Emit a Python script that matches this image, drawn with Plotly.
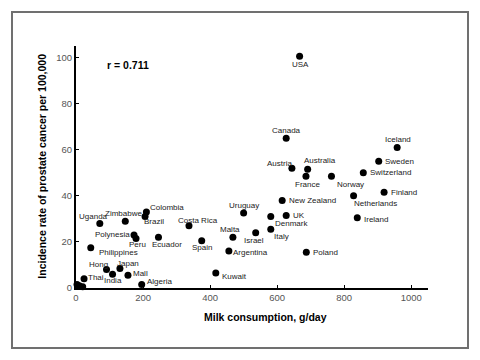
import plotly.graph_objects as go

countries = ["USA", "Canada", "Iceland", "Sweden", "Austria", "Australia", "Switzerland",
             "France", "Norway", "Finland", "Netherlands", "New Zealand", "UK", "Denmark",
             "Ireland", "Italy", "Israel", "Poland", "Uruguay", "Colombia", "Brazil",
             "Zimbabwe", "Uganda", "Costa Rica", "Polynesia", "Peru", "Ecuador", "Malta",
             "Spain", "Argentina", "Philippines", "Hong", "Japan", "India", "Mall", "Thai",
             "Kuwait", "Algeria", "", "", ""]
milk = [667, 627, 958, 903, 644, 691, 857,
        686, 762, 919, 828, 615, 627, 581,
        839, 581, 536, 687, 500, 210, 206,
        147, 71, 337, 173, 179, 246, 468,
        375, 456, 44, 91, 131, 109, 155, 24,
        417, 196, 3, 10, 20]
incidence = [100.5, 65, 61, 55, 52, 51.5, 50,
             48.5, 48.5, 41.5, 40, 38, 31.5, 31,
             30.5, 25.5, 24, 15.5, 32.5, 33, 31,
             29, 28, 27, 23, 21.5, 22, 22,
             20.5, 16, 17.5, 8, 8.5, 6, 5.5, 4,
             6.5, 1.5, 1.5, 1, 0.5]

# label placement (style): anchor, pixel offset right, pixel offset down
label_style = [("center", 1, 8), ("center", 0, -8), ("center", 1, -7.5), ("left", 4, 0),
               ("center", -12, -5), ("center", 12, -8.5), ("left", 4.5, 0),
               ("center", 2, 8), ("left", 4, 8), ("left", 4.5, 0), ("left", -2, 8),
               ("left", 5, 0), ("left", 5, 0), ("left", 2, 7),
               ("left", 4.5, 2), ("left", 1.5, 7), ("center", -1.5, 8), ("left", 5, 0.5),
               ("center", 0, -7.5), ("left", 2, -4), ("left", -3, 4.5),
               ("center", -2, -8), ("center", -6, -6.5), ("center", 9, -5.5), ("right", -2.5, 0),
               ("center", 1, 6), ("center", 9, 7.5), ("center", -3, -7.5),
               ("center", 0, 6.5), ("left", 2.5, 1.5), ("left", 6, 4.5), ("center", -8.5, -5.5),
               ("center", 8, -5), ("center", 0.5, 6.5), ("left", 3.5, -1.5), ("left", 2, -1.5),
               ("left", 4, 3.5), ("left", 3, -3), ("left", 0, 0), ("left", 0, 0), ("left", 0, 0)]

x_ticks = [0, 200, 400, 600, 800, 1000]
y_ticks = [0, 20, 40, 60, 80, 100]

font = "Liberation Sans, Arial, sans-serif"

fig = go.Figure()
fig.add_trace(go.Scatter(
    x=milk, y=incidence, mode="markers",
    marker=dict(color="black", size=7),
    cliponaxis=False, showlegend=False, hoverinfo="skip",
))

annotations = []
for name, xv, yv, (anc, dx, dy) in zip(countries, milk, incidence, label_style):
    if not name:
        continue
    annotations.append(dict(
        text=name, x=xv, y=yv, xref="x", yref="y", showarrow=False,
        xanchor=anc, yanchor="middle", xshift=dx, yshift=-dy,
        font=dict(family=font, size=8, color="#222222"),
    ))

annotations += [
    dict(text="<b>Milk consumption, g/day</b>", xref="paper", yref="paper",
         x=0.537, y=-0.12, xanchor="center", yanchor="middle", showarrow=False,
         font=dict(family=font, size=10.5, color="black")),
    dict(text="<b>Incidence rate of prostate cancer per 100,000</b>", xref="paper", yref="paper",
         x=-0.097, y=0.505, xanchor="center", yanchor="middle", showarrow=False, textangle=-90,
         font=dict(family=font, size=10.5, color="black")),
    dict(text="<b>r = 0.711</b>", xref="paper", yref="paper",
         x=(105 - 76) / 352, y=(288 - 65) / 242, xanchor="left", yanchor="middle", showarrow=False,
         font=dict(family=font, size=10.5, color="black")),
]

fig.update_layout(
    width=480, height=360,
    margin=dict(l=76, r=52, t=46, b=72),
    paper_bgcolor="white", plot_bgcolor="white",
    font=dict(family=font),
    xaxis=dict(range=[0, 1050], tickvals=x_ticks, showgrid=False, zeroline=False,
               showline=True, linecolor="black", linewidth=2,
               ticks="inside", ticklen=3, tickcolor="black",
               tickfont=dict(family=font, size=9.5, color="#555555")),
    yaxis=dict(range=[0, 105], tickvals=y_ticks, showgrid=False, zeroline=False,
               showline=True, linecolor="black", linewidth=2,
               ticks="inside", ticklen=3, tickcolor="black",
               tickfont=dict(family=font, size=9.5, color="#555555")),
    annotations=annotations,
    shapes=[
        dict(type="rect", xref="paper", yref="paper",
             x0=(12 - 76) / 352, x1=(468 - 76) / 352,
             y0=(288 - 348) / 242, y1=(288 - 12) / 242,
             line=dict(color="#707070", width=2)),
    ],
)

fig.write_html("out.html", config={"displayModeBar": False},
               post_script="document.body.style.margin='0';")
